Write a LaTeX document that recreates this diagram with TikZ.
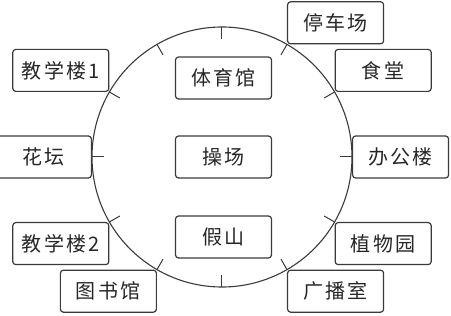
\documentclass[tikz,border=0pt]{standalone}
\usepackage{fontspec}
\usepackage{tikz}
\newfontfamily\cjk[LetterSpace=12]{Noto Sans CJK SC}
\definecolor{lineGray}{HTML}{3A3A3A}
\definecolor{textGray}{HTML}{262626}

\begin{document}
\begin{tikzpicture}[
    x=1pt,y=1pt,
    place/.style={draw=lineGray,line width=1.2pt,rounded corners=3pt,
      minimum width=96pt,minimum height=42pt,inner sep=0pt,
      text=textGray,font=\cjk\fontsize{20pt}{24pt}\selectfont}
  ]
    \useasboundingbox (-222,-159) rectangle (229,157);
    % campus ring with ticks every 30 degrees
    \draw[lineGray,line width=1.1pt] (0,0) circle[radius=130pt];
    \foreach \a in {0,30,...,330}
      \draw[lineGray,line width=1pt] (\a:130) -- (\a:118);

    % inside the ring
    \node[place] (gym) at (1.5,79) {体育馆};
    \node[place] (playground) at (1.5,0) {操场};
    \node[place] (rockery) at (1.5,-80) {假山};

    % around the ring
    \node[place,anchor=south west] (parking) at (60:130) {停车场};
    \node[place,anchor=south west] (canteen) at (30:130) {食堂};
    \node[place,anchor=west] (office) at (0:130) {办公楼};
    \node[place,anchor=north west] (garden) at (-30:130) {植物园};
    \node[place,anchor=north west] (broadcast) at (-60:130) {广播室};
    \node[place,anchor=north east] (library) at (-120:130) {图书馆};
    \node[place,anchor=north east] (teachTwo) at (-150:130) {教学楼2};
    \node[place,anchor=east] (flowerbed) at (180:130) {花坛};
    \node[place,anchor=south east] (teachOne) at (150:130) {教学楼1};
  \end{tikzpicture}
\end{document}
